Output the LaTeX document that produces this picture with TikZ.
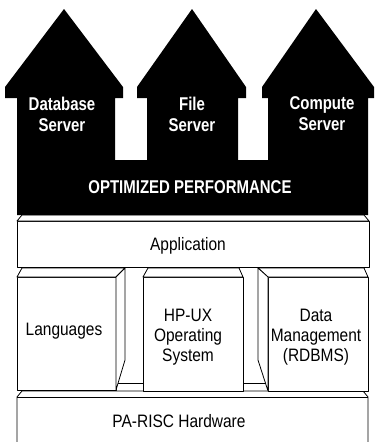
\documentclass[tikz,border=0pt]{standalone}
\usepackage{fontspec}
\setmainfont{Liberation Sans}
\newfontfamily\slimfont{Liberation Sans}[FakeStretch=0.86]
\newfontfamily\heavyfont{Liberation Sans}[FakeStretch=0.81]
\usepackage{tikz}

\begin{document}
\begin{tikzpicture}[x=1pt, y=-1pt,
        slab/.style={draw, line width=0.8pt, fill=white, line join=round},
        layer/.style={inner sep=0pt, align=center, font=\slimfont\fontsize{18}{20}\selectfont},
        server/.style={inner sep=0pt, align=center, text=white, font=\heavyfont\bfseries\fontsize{18.5}{21}\selectfont}
    ]
        \useasboundingbox (0,0) rectangle (375,442);

        % Hardware
        \draw[slab] (17,442) -- (17,397) -- (22,391) -- (363,391) -- (368,397) -- (368,442);
        \draw[line width=0.8pt] (17,397) -- (368,397);
        \draw[line width=0.8pt] (118,383) -- (143,383);
        \draw[line width=0.8pt] (243,383) -- (265,383);

        % Middle blocks
        \draw[slab] (17,277) rectangle (116,390);
        \draw[slab] (17,277) -- (22,268) -- (125,268) -- (116,277) -- cycle;
        \draw[slab] (116,277) -- (125,268) -- (125,360) -- (116,390) -- cycle;

        \draw[slab] (143,277) rectangle (243,391);
        \draw[slab] (143,277) -- (148,268) -- (239,268) -- (243,277) -- cycle;

        \draw[slab] (268,277) rectangle (368,391);
        \draw[slab] (268,277) -- (258,268) -- (364,268) -- (368,277) -- cycle;
        \draw[slab] (268,277) -- (258,268) -- (258,360) -- (268,391) -- cycle;

        % Application
        \draw[slab] (17,221) rectangle (369,267);
        \draw[slab] (17,221) -- (22,215) -- (364,215) -- (369,221) -- cycle;

        % Servers
        \fill (17,215) -- (17,98) -- (5,98) -- (5,87) -- (64,9) -- (123,87) -- (123,98) -- (115,98) -- (115,160)
            -- (147,160) -- (147,98) -- (137,98) -- (137,87) -- (192,9) -- (246,87) -- (246,98) -- (238,98) -- (238,160)
            -- (268,160) -- (268,98) -- (262,98) -- (262,87) -- (316,9) -- (374,87) -- (374,98) -- (368,98) -- (368,215) -- cycle;

        % Labels
        \node[server] (db) at (62,114) {Database\\Server};
        \node[server] (file) at (192,114) {File\\Server};
        \node[server] (comp) at (322,114) {Compute\\Server};
        \node[server] (perf) at (190,187) {OPTIMIZED PERFORMANCE};

        \node[layer, anchor=base] (app) at (188,250) {Application};
        \node[layer, anchor=base] (lang) at (64,335) {Languages};
        \node[layer] (hpux) at (188,337) {HP-UX\\Operating\\System};
        \node[layer] (dbms) at (316,337) {Data\\Management\\(RDBMS)};
        \node[layer, anchor=base] (hw) at (179,427) {PA-RISC Hardware};
    \end{tikzpicture}
\end{document}
